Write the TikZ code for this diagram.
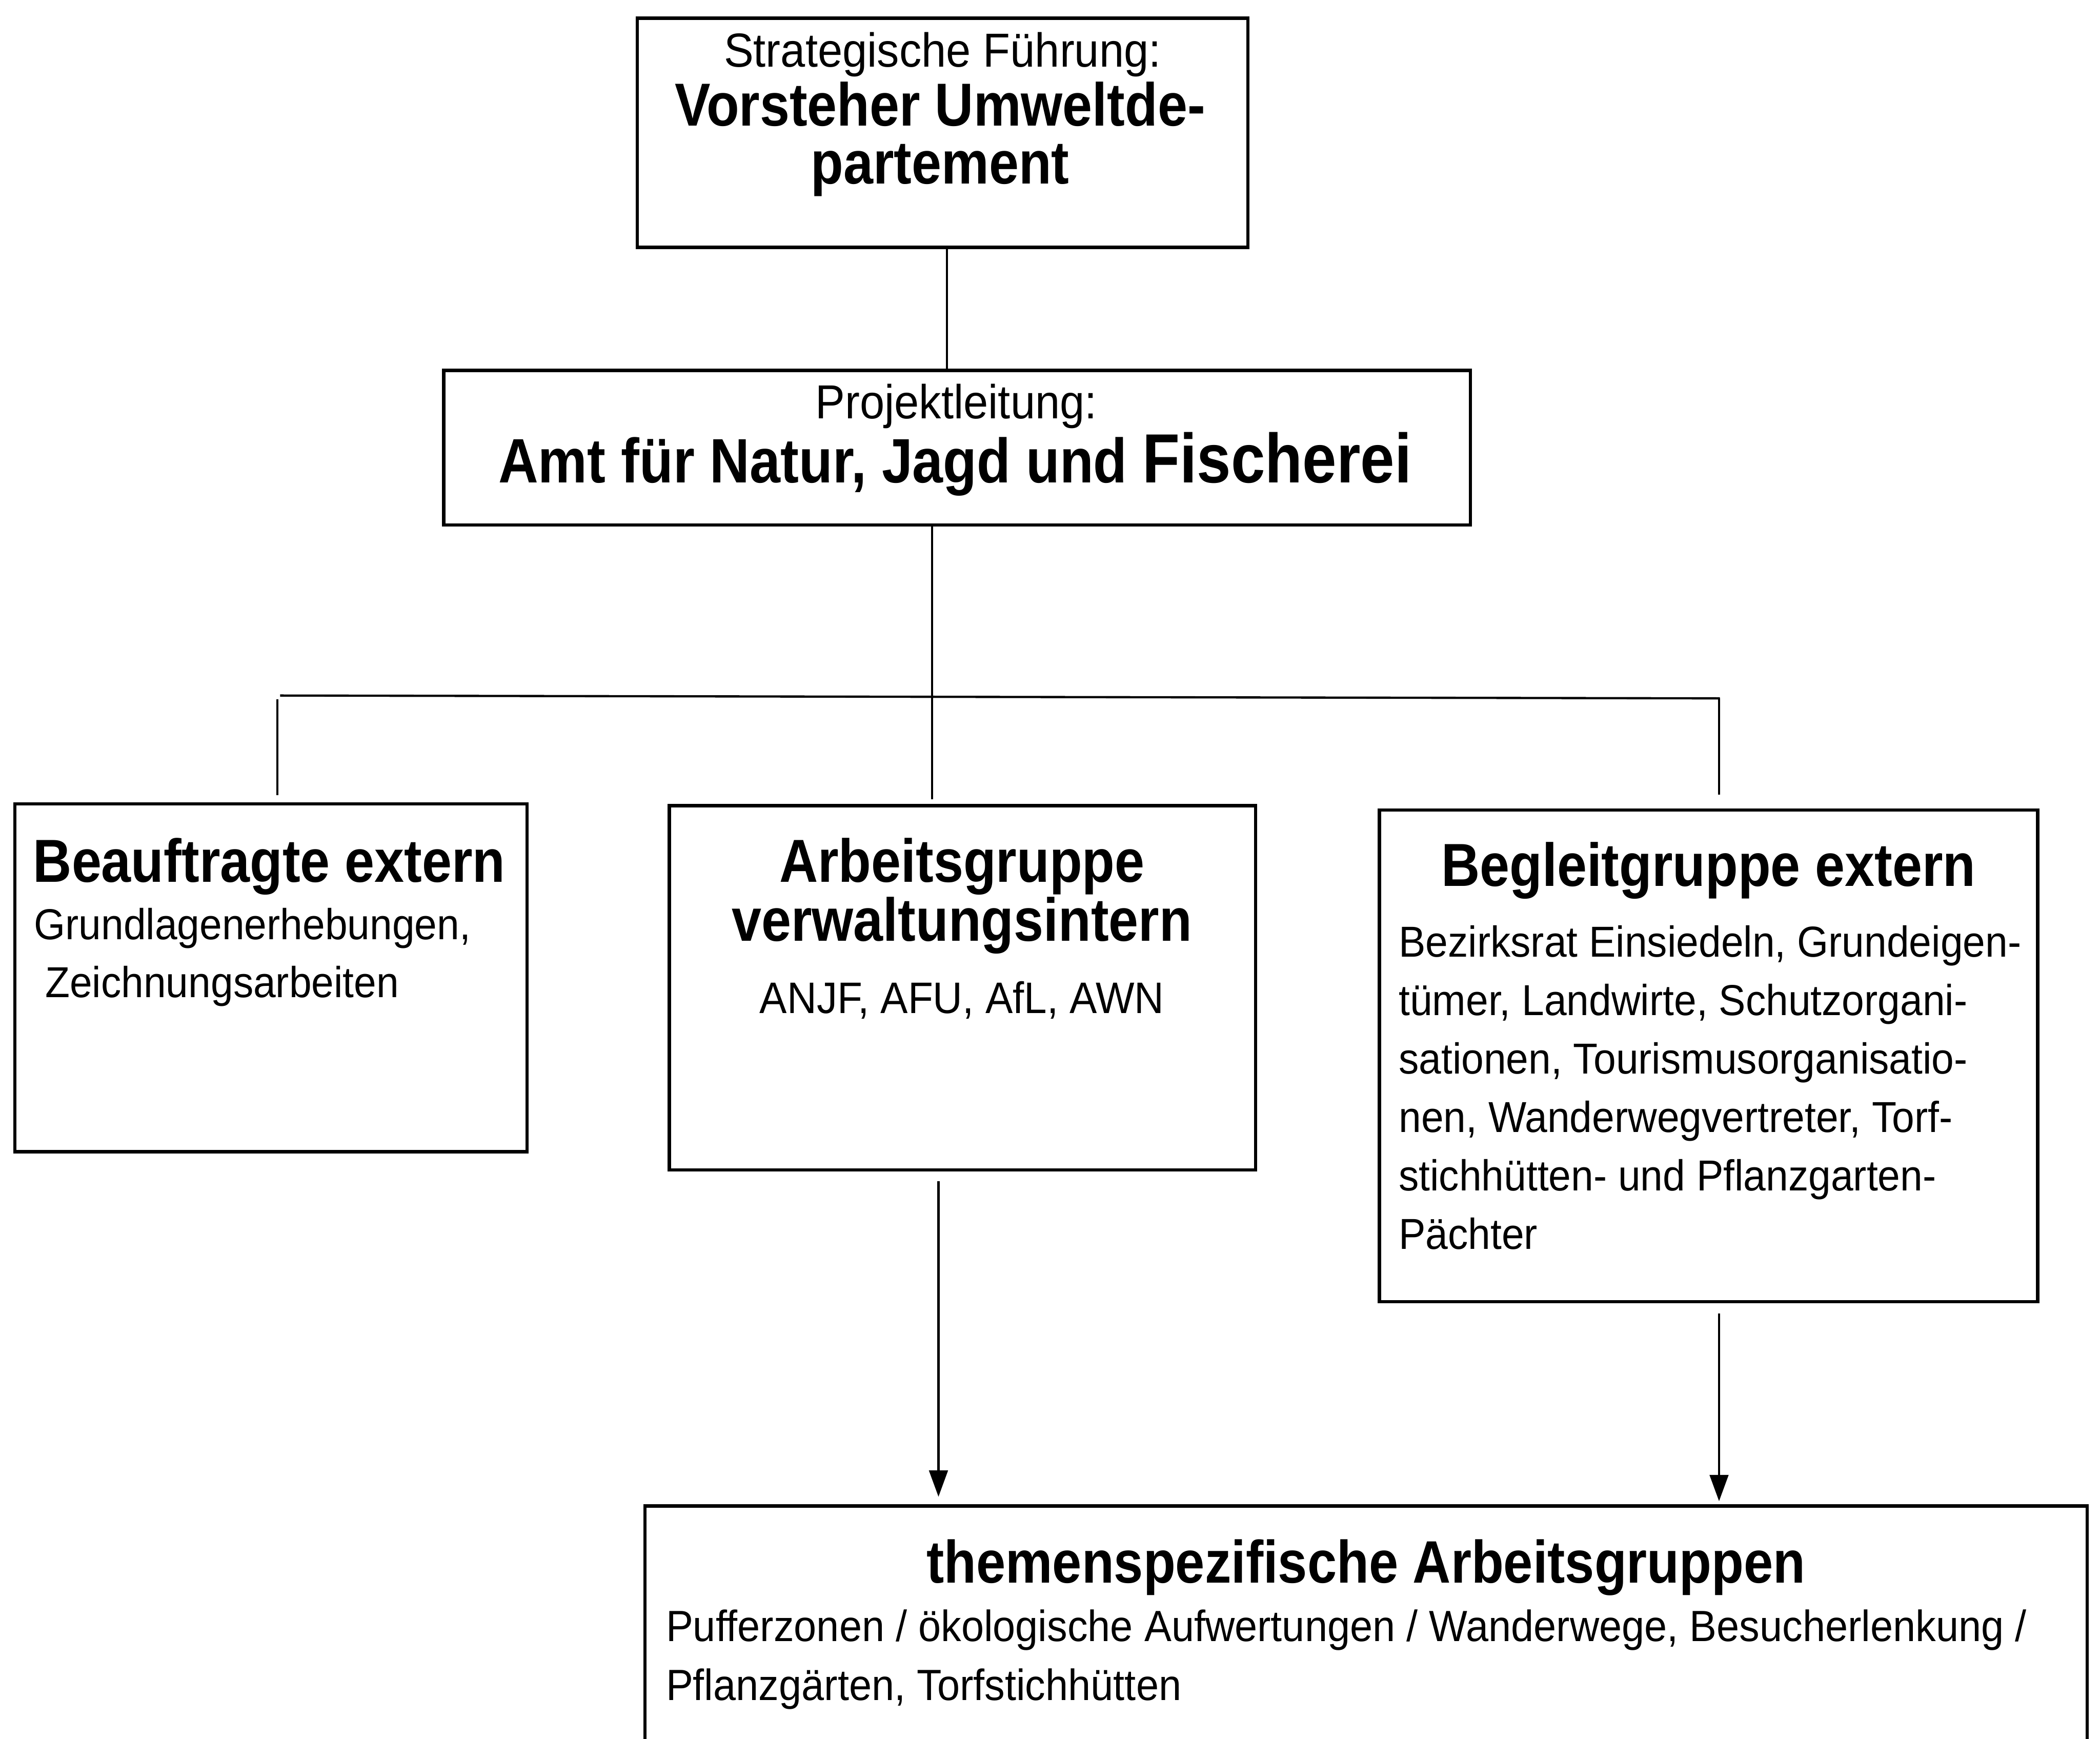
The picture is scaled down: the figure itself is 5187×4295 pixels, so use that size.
\documentclass[tikz,border=0pt]{standalone}
\usepackage{fontspec}
\setmainfont{Liberation Sans}
\newfontfamily\rgf{Liberation Sans}[FakeStretch=0.93]
\newfontfamily\bdf{Liberation Sans}[FakeStretch=0.88]
\usetikzlibrary{arrows.meta,calc}
\tikzset{
 box/.style={draw, line width=0.8pt, inner sep=0pt},
 con/.style={line width=0.55pt},
 arr/.style={con, -{Triangle[length=6.5pt,width=4.6pt]}},
 reg/.style={inner sep=0pt, font=\rgf\fontsize{10.7pt}{12pt}\selectfont},
 regL/.style={inner sep=0pt, font=\rgf\fontsize{11.8pt}{14pt}\selectfont},
 bld/.style={inner sep=0pt, font=\bdf\bfseries\fontsize{15pt}{18pt}\selectfont},
}
\begin{document}
\begin{tikzpicture}[x=0.1pt,y=-0.1pt]
\useasboundingbox (0,0) rectangle (5187,4295);
\fill[white] (0,0) rectangle (5187,4295);
\clip (0,0) rectangle (5187,4295);
% boxes
\node[box, minimum width=150.8pt, minimum height=56.6pt] (top) at (2328,328) {};
\node[box, minimum width=253.6pt, minimum height=38.2pt] (proj) at (2364,1106) {};
\node[box, minimum width=126.5pt, minimum height=85.9pt] (left) at (669.5,2415.5) {};
\node[box, minimum width=144.8pt, minimum height=90pt] (mid) at (2377,2440) {};
\node[box, minimum width=162.6pt, minimum height=121.4pt] (right) at (4220,2608) {};
\node[box, minimum width=356.2pt, minimum height=70pt] (bot) at (3374,4070) {};
% texts
\node[regL, anchor=base] (t1) at (2328,165) {Strategische Führung:};
\node[bld, anchor=base] (t2) at (2322,311) {Vorsteher Umweltde-};
\node[bld, anchor=base] (t3) at (2322,454) {partement};
\node[regL, anchor=base, text depth=0.5pt] (p1) at (2362,1034) {Projektleitung:};
\node[bld, font=\bdf\bfseries\fontsize{15.5pt}{18pt}\selectfont, anchor=base, text height=11.5pt] (p2) at (2359,1192) {Amt für Natur, Jagd und {\fontsize{17.2pt}{18pt}\selectfont Fischerei}};
\node[bld, anchor=base west] (l1) at (80,2179) {Beauftragte extern};
\node[reg, anchor=base west] (l2) at (82,2321) {Grundlagenerhebungen,};
\node[reg, anchor=base west] (l3) at (82,2464) {\ Zeichnungsarbeiten};
\node[bld, anchor=base] (m1) at (2376,2179) {Arbeitsgruppe};
\node[bld, anchor=base] (m2) at (2376,2325) {verwaltungsintern};
\node[reg, font=\rgf\fontsize{10.9pt}{12pt}\selectfont, anchor=base] (m3) at (2376,2503) {ANJF, AFU, AfL, AWN};
\node[bld, anchor=base] (r1) at (4220,2189) {Begleitgruppe extern};
\node[reg, anchor=base west] (r2) at (3453,2363) {Bezirksrat Einsiedeln, Grundeigen-};
\node[reg, anchor=base west] (r3) at (3453,2508) {tümer, Landwirte, Schutzorgani-};
\node[reg, anchor=base west] (r4) at (3453,2652) {sationen, Tourismusorganisatio-};
\node[reg, anchor=base west] (r5) at (3453,2797) {nen, Wanderwegvertreter, Torf-};
\node[reg, anchor=base west] (r6) at (3453,2941) {stichhütten- und Pflanzgarten-};
\node[reg, anchor=base west] (r7) at (3453,3086) {Pächter};
\node[bld, font=\bdf\bfseries\fontsize{14.8pt}{17pt}\selectfont, anchor=base] (b1) at (3374,3910) {themenspezifische Arbeitsgruppen};
\node[reg, font=\rgf\fontsize{10.8pt}{12pt}\selectfont, anchor=base west] (b2) at (1643,4054) {Pufferzonen / ökologische Aufwertungen / Wanderwege, Besucherlenkung /};
\node[reg, font=\rgf\fontsize{10.8pt}{12pt}\selectfont, anchor=base west] (b3) at (1643,4200) {Pflanzgärten, Torfstichhütten};
% connectors
\coordinate (cx1) at (2339,0);
\coordinate (cx2) at (2302,0);
\coordinate (cxL) at (685,0);
\coordinate (cxR) at (4246,0);
\coordinate (ax1) at (2318,0);
\coordinate (hL) at (692,1718);
\coordinate (hR) at (4248,1725);
\draw[con] (top.south -| cx1) -- (proj.north -| cx1);
\draw[con] (proj.south -| cx2) -- ($(mid.north -| cx2)+(0,-12)$);
\draw[con] (hL) -- (hR);
\draw[con] ($(hL -| cxL)+(0,9)$) -- ($(left.north -| cxL)+(0,-18)$);
\draw[con] (hR -| cxR) -- ($(right.north -| cxR)+(0,-34)$);
\draw[arr] ($(mid.south -| ax1)+(0,24)$) -- ($(bot.north -| ax1)+(0,-19)$);
\draw[arr] ($(right.south -| cxR)+(0,26)$) -- ($(bot.north -| cxR)+(0,-8)$);
\end{tikzpicture}
\end{document}
